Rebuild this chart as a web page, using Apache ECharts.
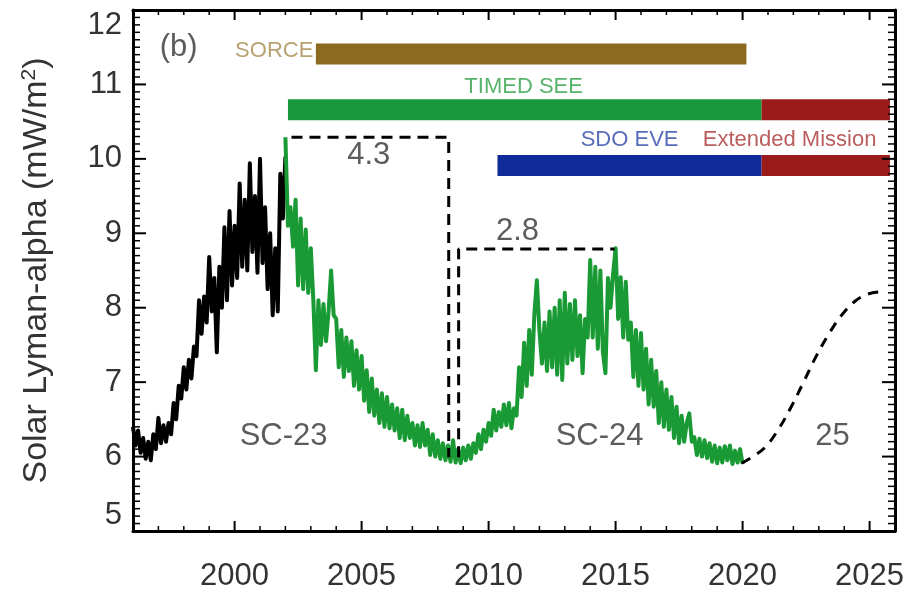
<!DOCTYPE html>
<html>
<head>
<meta charset="utf-8">
<script src="https://cdn.jsdelivr.net/npm/echarts@6/dist/echarts.min.js"></script>
<style>
  html, body { margin: 0; padding: 0; background: #fff; }
  #main { width: 911px; height: 596px; }
</style>
</head>
<body>
<div id="main"></div>
<script>
const FONT = '"Liberation Sans", Arial, Helvetica, sans-serif';
const TEXT = '#333';

// Lyman-alpha irradiance (mW/m^2), sampled every 0.1 year; consecutive samples
// follow the upper and lower excursions of the daily record.
const sampleStep = 0.1;

// Composite record before TIMED SEE (1996.0 - 2002.0)
const compositeStart = 1996.0;
const compositeValues = [
  6.40, 6.15, 6.35, 6.05, 6.25, 5.97, 6.20, 5.95, 6.30, 6.10,
  6.52, 6.18, 6.42, 6.20, 6.45, 6.30, 6.72, 6.50, 6.95, 6.78,
  7.20, 6.90, 7.30, 7.05, 7.48, 7.35, 8.10, 7.65, 8.15, 7.80,
  8.68, 7.95, 8.40, 7.40, 8.55, 8.00, 9.08, 8.10, 9.30, 8.30,
  9.10, 8.40, 9.67, 8.55, 9.45, 8.50, 9.94, 8.75, 9.50, 8.47,
  10.00, 8.60, 9.35, 8.25, 9.00, 7.90, 8.80, 7.95, 9.80, 9.20,
  10.03
];

// TIMED SEE record (2002.0 - 2020.0)
const timedStart = 2002.0;
const timedValues = [
  10.29, 9.10, 9.35, 8.82, 9.45, 8.30, 9.20, 8.25, 9.05, 8.20,
  8.80, 8.10, 7.16, 8.10, 7.50, 8.05, 7.55, 7.95, 8.50, 7.90,
  7.85, 7.20, 7.70, 7.07, 7.60, 7.15, 7.55, 6.95, 7.43, 6.90,
  7.35, 6.75, 7.16, 6.60, 7.05, 6.55, 6.90, 6.45, 6.85, 6.40,
  6.80, 6.38, 6.70, 6.35, 6.65, 6.25, 6.63, 6.22, 6.55, 6.25,
  6.45, 6.15, 6.42, 6.13, 6.45, 6.15, 6.36, 6.02, 6.30, 6.00,
  6.22, 5.97, 6.18, 5.95, 6.15, 5.93, 6.22, 5.92, 6.10, 5.91,
  6.12, 5.95, 6.15, 5.97, 6.18, 6.05, 6.30, 6.10, 6.36, 6.20,
  6.45, 6.28, 6.63, 6.35, 6.60, 6.40, 6.70, 6.42, 6.72, 6.38,
  6.65, 6.55, 7.20, 6.80, 7.53, 6.95, 7.70, 7.10, 7.90, 8.37,
  7.70, 7.25, 7.80, 7.15, 7.95, 7.20, 8.00, 7.10, 8.10, 7.03,
  8.20, 7.25, 8.05, 7.30, 8.10, 7.35, 7.90, 7.12, 7.85, 7.60,
  8.64, 7.60, 8.55, 7.45, 8.50, 7.40, 7.12, 8.40, 8.00, 8.45,
  8.80, 7.85, 8.41, 7.60, 8.35, 7.57, 7.80, 7.07, 7.70, 6.95,
  7.66, 6.90, 7.45, 6.70, 7.30, 6.67, 7.15, 6.45, 7.00, 6.40,
  6.90, 6.36, 6.80, 6.25, 6.67, 6.18, 6.55, 6.20, 6.45, 6.58,
  6.20, 6.26, 6.02, 6.24, 6.00, 6.22, 5.98, 6.18, 5.93, 6.15,
  5.91, 6.12, 5.92, 6.14, 5.95, 6.15, 5.90, 6.08, 5.92, 6.10,
  5.90
];

// Solar cycle 25 outlook
const predYears  = [2019.96, 2020.4, 2020.9, 2021.4, 2021.9, 2022.4, 2022.9, 2023.4, 2023.9, 2024.4, 2024.9, 2025.35];
const predValues = [5.91, 6.00, 6.13, 6.36, 6.66, 7.00, 7.35, 7.65, 7.90, 8.08, 8.18, 8.21];

// Cycle amplitudes (maximum minus minimum)
const cycleMin = 5.99;
const sc23PeakYear = 2002.24, sc23Peak = 10.29, sc23MinYear = 2008.43;
const sc24MinYear = 2008.82, sc24PeakYear = 2014.96, sc24Peak = 8.79;

// Mission coverage
const missionNames  = ['SORCE', 'TIMED SEE', 'SDO EVE'];
const missionStart  = [2003.2, 2002.1, 2010.35];
const missionEnd    = [2020.15, 2020.75, 2020.75];
const missionLevel  = [11.41, 10.66, 9.91];
const extendedStart = [null, 2020.75, 2020.75];
const extendedEnd   = [null, 2025.8, 2025.8];
const missionColors = ['#8c6b20', '#17983a', '#0f2a99'];
const extendedColor = '#9b1b1b';

// Axis ranges and labels
const yearMin = 1996, yearMax = 2026;
const valueMin = 5, valueMax = 12;
const yearLabels = [2000, 2005, 2010, 2015, 2020, 2025];

function series_of(start, values) {
  return values.map((v, i) => [+(start + i * sampleStep).toFixed(2), v]);
}

// Tick marks: [value, axis (0 = years, 1 = irradiance), major flag]
const tickMarks = [];
for (let y = yearMin; y <= yearMax; y++) tickMarks.push([y, 0, y % 5 === 0 ? 1 : 0]);
for (let k = valueMin * 10; k <= valueMax * 10; k++) tickMarks.push([k / 10, 1, k % 10 === 0 ? 1 : 0]);

const series = [];

// Mission bars
missionNames.forEach((name, i) => {
  series.push({
    type: 'line', silent: true, symbol: 'none', z: 2,
    data: [[missionStart[i], missionLevel[i]], [missionEnd[i], missionLevel[i]]],
    lineStyle: { color: missionColors[i], width: 21, cap: 'butt' }
  });
  if (extendedStart[i] !== null) {
    series.push({
      type: 'line', silent: true, symbol: 'none', z: 2,
      data: [[extendedStart[i], missionLevel[i]], [extendedEnd[i], missionLevel[i]]],
      lineStyle: { color: extendedColor, width: 21, cap: 'butt' }
    });
  }
});

// Irradiance records
series.push({
  type: 'line', symbol: 'none', z: 3, silent: true,
  data: series_of(compositeStart, compositeValues),
  lineStyle: { color: '#000', width: 4, join: 'round' }
});
series.push({
  type: 'line', symbol: 'none', z: 4, silent: true,
  data: series_of(timedStart, timedValues),
  lineStyle: { color: '#1a9a35', width: 4, join: 'round' }
});

// Cycle 25 outlook
series.push({
  type: 'line', symbol: 'none', z: 4, silent: true, smooth: 0.4,
  data: predYears.map((y, i) => [y, predValues[i]]),
  lineStyle: { color: '#000', width: 3, type: [10, 8] }
});

// Amplitude brackets
const dash = { color: '#000', width: 3, type: [11, 7] };
series.push({
  type: 'line', symbol: 'none', z: 5, silent: true,
  data: [[sc23PeakYear, sc23Peak], [sc23MinYear, sc23Peak], [sc23MinYear, cycleMin]],
  lineStyle: dash
});
series.push({
  type: 'line', symbol: 'none', z: 5, silent: true,
  data: [[sc24MinYear, cycleMin], [sc24MinYear, sc24Peak], [sc24PeakYear, sc24Peak]],
  lineStyle: dash
});

// Inward tick marks on all four sides of the frame
series.push({
  type: 'custom', silent: true, clip: false, z: 20,
  data: tickMarks,
  encode: { x: -1, y: -1 },
  renderItem: function (params, api) {
    const v = api.value(0), axis = api.value(1), major = api.value(2);
    const style = { stroke: '#000', lineWidth: major ? 2 : 1.5 };
    if (axis === 0) {
      const len = major ? 10 : 5;
      const b = api.coord([v, valueMin]), t = api.coord([v, valueMax]);
      return { type: 'group', children: [
        { type: 'line', shape: { x1: b[0], y1: b[1], x2: b[0], y2: b[1] - len }, style: style },
        { type: 'line', shape: { x1: t[0], y1: t[1], x2: t[0], y2: t[1] + len }, style: style }
      ] };
    }
    const len = major ? 13 : 7;
    const l = api.coord([yearMin, v]), r = api.coord([yearMax, v]);
    return { type: 'group', children: [
      { type: 'line', shape: { x1: l[0], y1: l[1], x2: l[0] + len, y2: l[1] }, style: style },
      { type: 'line', shape: { x1: r[0], y1: r[1], x2: r[0] - len, y2: r[1] }, style: style }
    ] };
  }
});

// Text annotations
function note(x, y, text, size, color) {
  return {
    value: [x, y],
    label: { show: true, position: 'inside', formatter: text, fontSize: size, color: color, fontFamily: FONT }
  };
}
series.push({
  type: 'scatter', z: 10, silent: true, symbolSize: 1,
  itemStyle: { color: 'rgba(0,0,0,0)' },
  data: [
    note(1997.8, 11.50, '(b)', 31, TEXT),
    note(2001.56, 11.45, missionNames[0], 22, '#a68a4e'),
    note(2011.38, 10.97, missionNames[1], 22, '#2ea046'),
    note(2015.55, 10.26, missionNames[2], 22, '#2d48a8'),
    note(2021.85, 10.26, 'Extended Mission', 22, '#a83434'),
    note(2005.28, 10.05, (sc23Peak - cycleMin).toFixed(1), 31, TEXT),
    note(2011.14, 9.03, (sc24Peak - cycleMin).toFixed(1), 31, TEXT),
    note(2001.93, 6.27, 'SC-23', 31, TEXT),
    note(2014.37, 6.27, 'SC-24', 31, TEXT),
    note(2023.54, 6.27, '25', 31, TEXT)
  ]
});

const frame = { show: true, onZero: false, lineStyle: { color: '#000', width: 3 } };

const option = {
  animation: false,
  backgroundColor: '#fff',
  grid: { left: 133, right: 16, top: 10, bottom: 65, containLabel: false, outerBoundsMode: 'none' },
  xAxis: [
    {
      type: 'value', position: 'bottom', min: yearMin, max: yearMax, interval: 1,
      splitLine: { show: false },
      axisLine: frame,
      axisTick: { show: false },
      axisLabel: {
        show: true, customValues: yearLabels, fontSize: 31, color: TEXT, fontFamily: FONT, margin: 30,
        formatter: v => String(v)
      }
    },
    {
      type: 'value', position: 'top', min: yearMin, max: yearMax, interval: 1,
      splitLine: { show: false },
      axisLine: frame,
      axisTick: { show: false },
      axisLabel: { show: false }
    }
  ],
  yAxis: [
    {
      type: 'value', position: 'left', min: valueMin, max: valueMax, interval: 1,
      splitLine: { show: false },
      axisLine: frame,
      axisTick: { show: false },
      axisLabel: {
        fontSize: 31, color: TEXT, fontFamily: FONT, margin: 11,
        verticalAlignMinLabel: 'bottom', verticalAlignMaxLabel: 'top'
      },
      name: '{a|Solar Lyman-alpha (mW/m}{s|2}{a|)}',
      nameLocation: 'middle', nameGap: 79,
      nameTextStyle: {
        rich: {
          a: { fontSize: 34, color: TEXT, fontFamily: FONT },
          s: { fontSize: 21, color: TEXT, fontFamily: FONT, verticalAlign: 'top', padding: [0, 0, 14, 0] }
        }
      }
    },
    {
      type: 'value', position: 'right', min: valueMin, max: valueMax, interval: 1,
      splitLine: { show: false },
      axisLine: frame,
      axisTick: { show: false },
      axisLabel: { show: false }
    }
  ],
  series: series
};

const chart = echarts.init(document.getElementById('main'));
chart.setOption(option);
</script>
</body>
</html>
